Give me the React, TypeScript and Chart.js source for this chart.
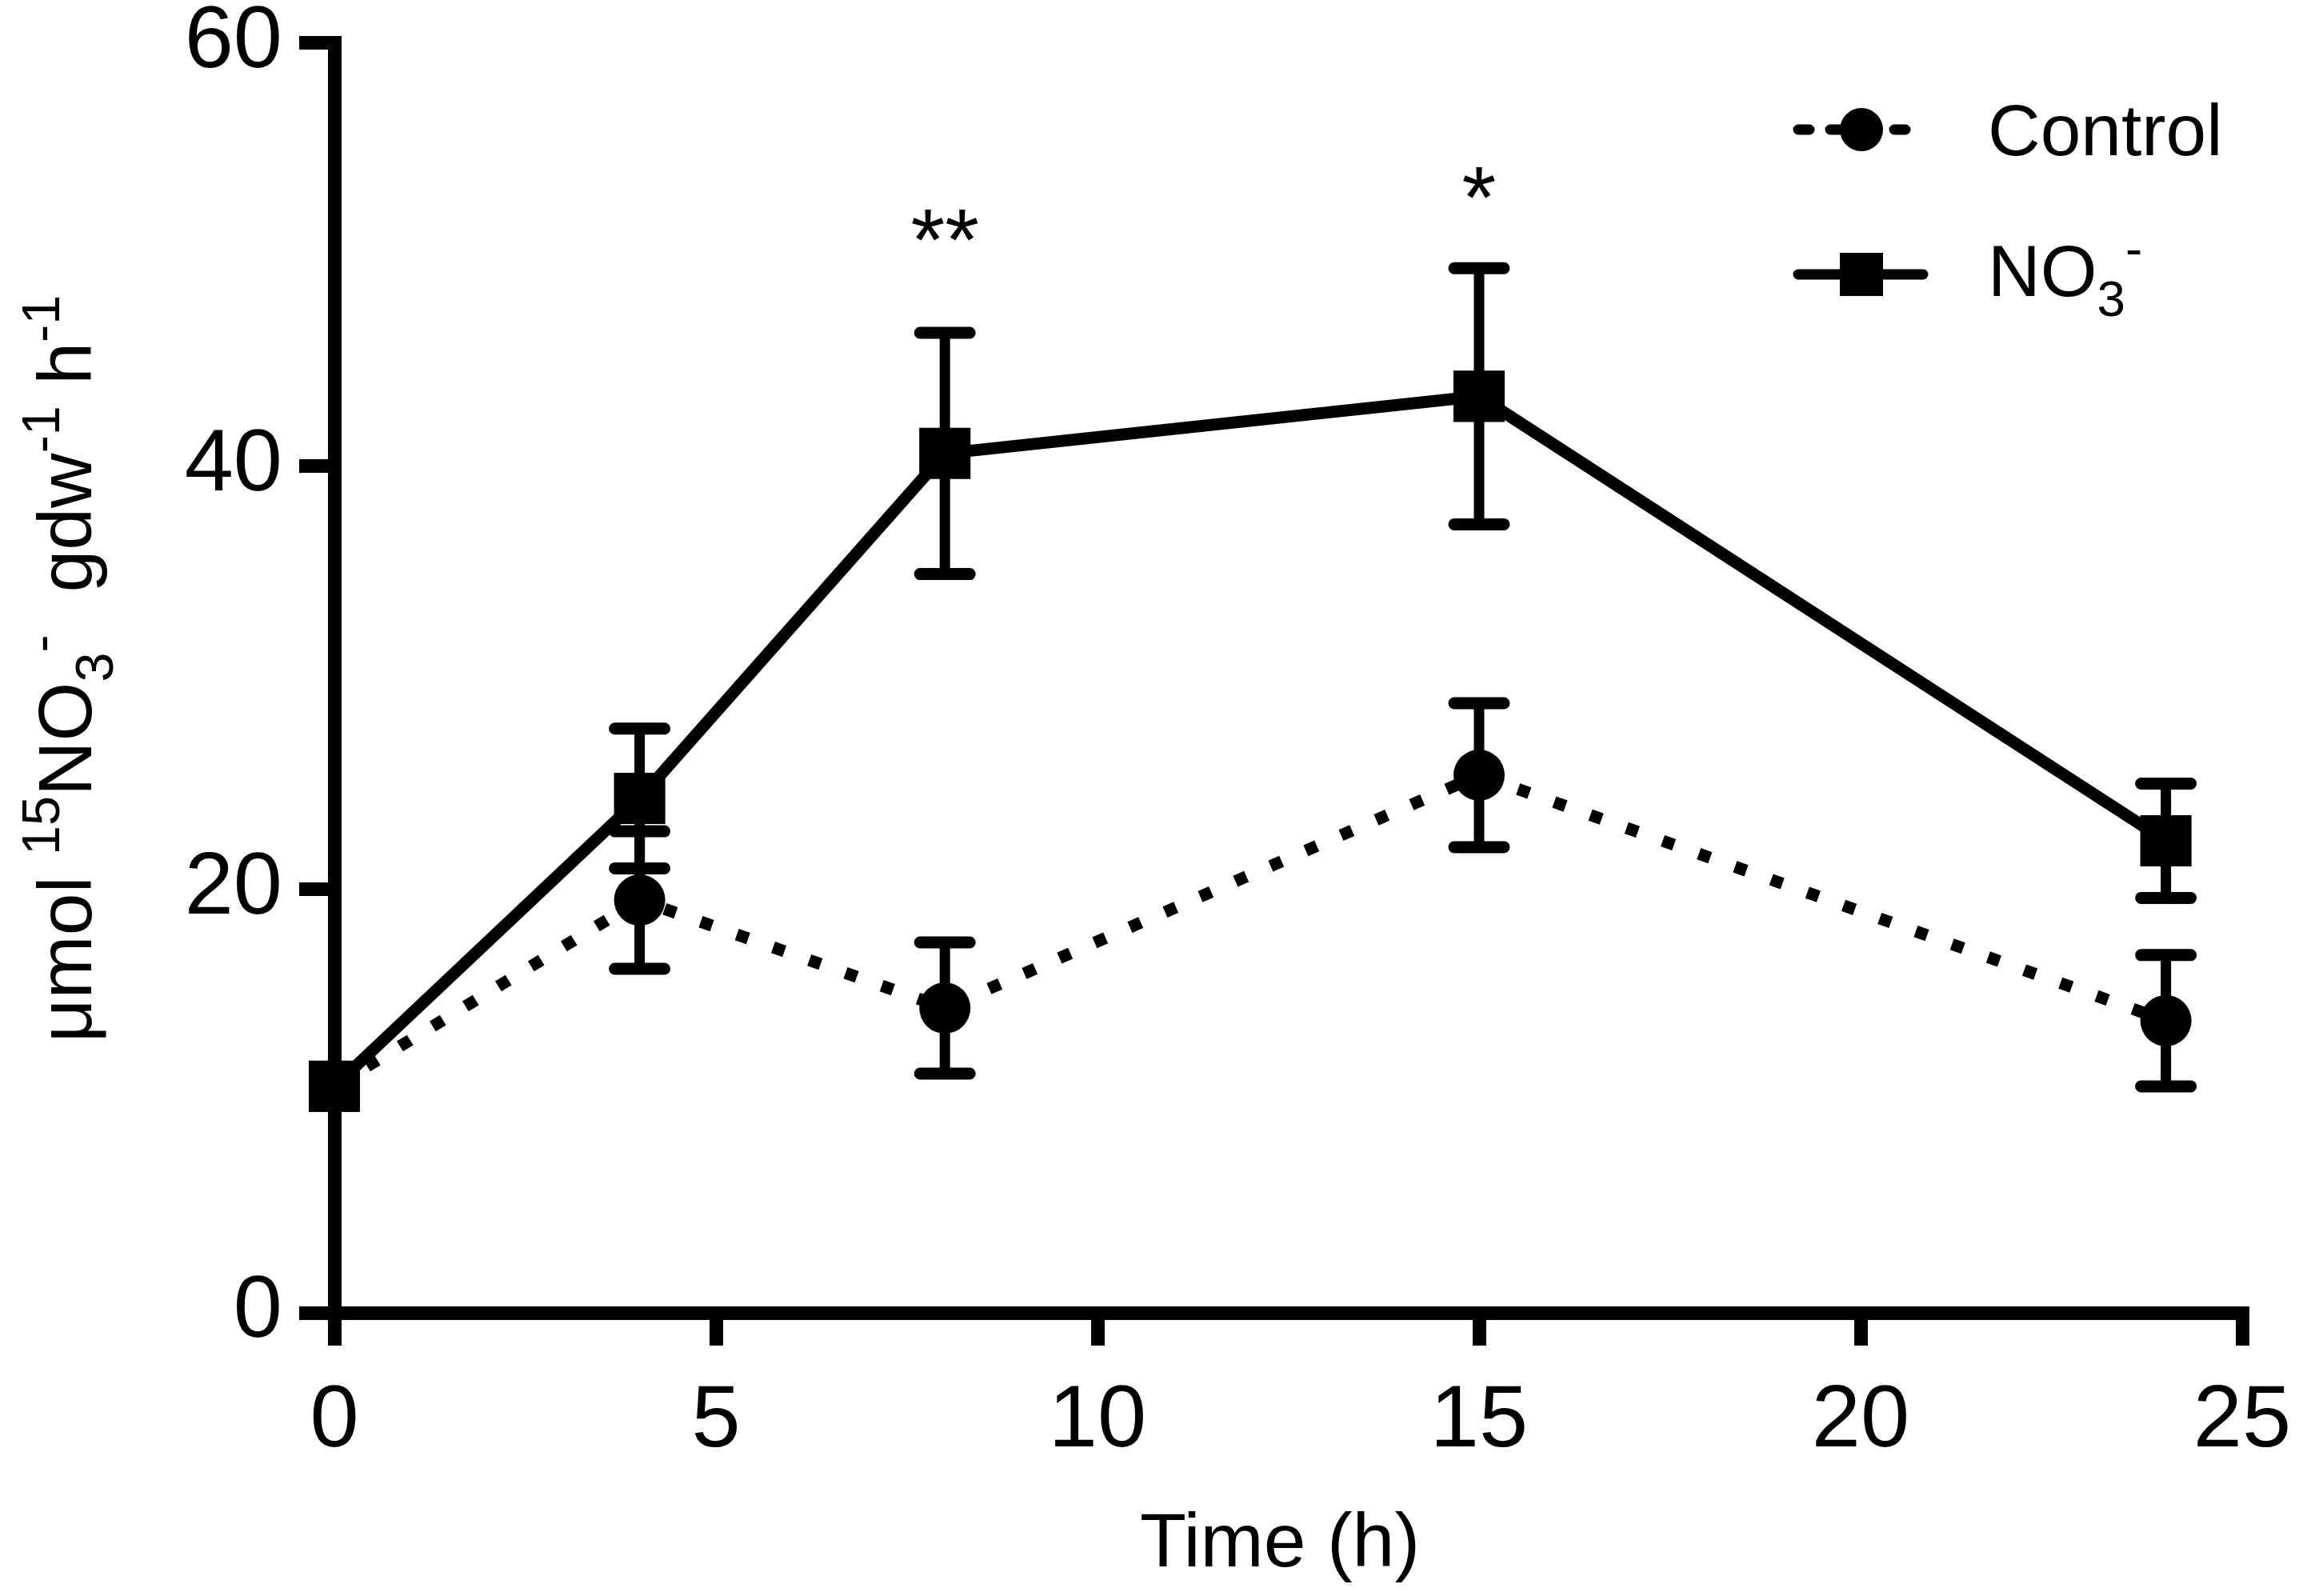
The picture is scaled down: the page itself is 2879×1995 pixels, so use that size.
import { useEffect, useRef } from "react";
import { Chart, registerables, type Plugin } from "chart.js";

Chart.register(...registerables);

const FONT = '"Liberation Sans", Arial, sans-serif';

// sampling times (h)
const hours = [0, 4, 8, 15, 24];
// Control
const controlMean = [10.7, 19.5, 14.4, 25.4, 13.8];
const controlSem = [0, 3.25, 3.1, 3.4, 3.1];
// NO3- treated
const nitrateMean = [10.7, 24.3, 40.6, 43.3, 22.3];
const nitrateSem = [0, 3.3, 5.7, 6.05, 2.7];

const xTicks = [0, 5, 10, 15, 20, 25];
const yTicks = [0, 20, 40, 60];

// significance marks
const sigHours = [8, 15];
const sigLevels = [49.3, 51.3];
const sigMarks = ["**", "*"];

type Run = { text: string; shift?: "sup" | "sub" };

const yTitle: Run[] = [
  { text: "μmol " },
  { text: "15", shift: "sup" },
  { text: "NO" },
  { text: "3", shift: "sub" },
  { text: "-", shift: "sup" },
  { text: "  gdw" },
  { text: "-1", shift: "sup" },
  { text: " h" },
  { text: "-1", shift: "sup" },
];
const nitrateLabel: Run[] = [{ text: "NO" }, { text: "3", shift: "sub" }, { text: "-", shift: "sup" }];
const controlLabel: Run[] = [{ text: "Control" }];

const runFont = (size: number, shift?: string) => `${shift ? size * 0.7 : size}px ${FONT}`;

function drawRuns(
  ctx: CanvasRenderingContext2D,
  runs: Run[],
  x: number,
  y: number,
  size: number,
  align: "left" | "center"
) {
  ctx.textBaseline = "alphabetic";
  ctx.textAlign = "left";
  let total = 0;
  for (const r of runs) {
    ctx.font = runFont(size, r.shift);
    total += ctx.measureText(r.text).width;
  }
  let cx = align === "center" ? x - total / 2 : x;
  for (const r of runs) {
    ctx.font = runFont(size, r.shift);
    const dy = r.shift === "sup" ? -0.42 * size : r.shift === "sub" ? 0.28 * size : 0;
    ctx.fillText(r.text, cx, y + dy);
    cx += ctx.measureText(r.text).width;
  }
}

const decorations: Plugin<"line"> = {
  id: "decorations",
  afterDatasetsDraw(chart) {
    const { ctx } = chart;
    const x = chart.scales.x;
    const y = chart.scales.y;
    ctx.save();
    ctx.strokeStyle = "#000";
    ctx.fillStyle = "#000";

    // error bars
    const groups = [
      { mean: controlMean, sem: controlSem },
      { mean: nitrateMean, sem: nitrateSem },
    ];
    for (const g of groups) {
      hours.forEach((h, i) => {
        if (!g.sem[i]) return;
        const px = x.getPixelForValue(h);
        const top = y.getPixelForValue(g.mean[i] + g.sem[i]);
        const bot = y.getPixelForValue(g.mean[i] - g.sem[i]);
        ctx.lineCap = "butt";
        ctx.lineWidth = 13;
        ctx.beginPath();
        ctx.moveTo(px, top);
        ctx.lineTo(px, bot);
        ctx.stroke();
        ctx.lineCap = "round";
        ctx.lineWidth = 15;
        ctx.beginPath();
        ctx.moveTo(px - 31, top);
        ctx.lineTo(px + 31, top);
        ctx.moveTo(px - 31, bot);
        ctx.lineTo(px + 31, bot);
        ctx.stroke();
      });
    }

    // significance asterisks
    ctx.font = `110px ${FONT}`;
    ctx.textAlign = "center";
    ctx.textBaseline = "alphabetic";
    sigHours.forEach((h, i) => {
      ctx.fillText(sigMarks[i], x.getPixelForValue(h), y.getPixelForValue(sigLevels[i]));
    });

    // axis titles
    ctx.save();
    ctx.translate(114, 836);
    ctx.rotate(-Math.PI / 2);
    drawRuns(ctx, yTitle, 0, 0, 95, "center");
    ctx.restore();
    drawRuns(ctx, [{ text: "Time (h)" }], 1600, 1958, 95, "center");

    // legend
    ctx.lineWidth = 13;
    ctx.lineCap = "round";
    ctx.setLineDash([14, 26]);
    ctx.beginPath();
    ctx.moveTo(2248, 162);
    ctx.lineTo(2382, 162);
    ctx.stroke();
    ctx.setLineDash([]);
    ctx.beginPath();
    ctx.arc(2327, 162, 27, 0, Math.PI * 2);
    ctx.fill();
    drawRuns(ctx, controlLabel, 2485, 194, 91, "left");

    ctx.beginPath();
    ctx.moveTo(2248, 343);
    ctx.lineTo(2404, 343);
    ctx.stroke();
    ctx.fillRect(2300, 316, 54, 54);
    drawRuns(ctx, nitrateLabel, 2485, 370, 91, "left");

    ctx.restore();
  },
};

export default function App() {
  const chartRef = useRef<HTMLCanvasElement | null>(null);
  const chartInstance = useRef<Chart | null>(null);

  useEffect(() => {
    if (!chartRef.current) return;
    chartInstance.current?.destroy();

    chartInstance.current = new Chart(chartRef.current, {
      type: "line",
      data: {
        datasets: [
          {
            label: "NO3-",
            data: hours.map((h, i) => ({ x: h, y: nitrateMean[i] })),
            borderColor: "#000",
            backgroundColor: "#000",
            borderWidth: 15,
            pointStyle: "rect",
            pointRadius: 45.3,
            pointHoverRadius: 45.3,
            pointBorderWidth: 0,
            pointBackgroundColor: "#000",
            tension: 0,
            clip: false,
            order: 0,
          },
          {
            label: "Control",
            data: hours.map((h, i) => ({ x: h, y: controlMean[i] })),
            borderColor: "#000",
            backgroundColor: "#000",
            borderWidth: 15,
            borderDash: [15, 33],
            borderCapStyle: "butt",
            pointStyle: "circle",
            pointRadius: 32,
            pointHoverRadius: 32,
            pointBorderWidth: 0,
            pointBackgroundColor: "#000",
            tension: 0,
            clip: false,
            order: 1,
          },
        ],
      },
      options: {
        animation: false,
        responsive: true,
        maintainAspectRatio: false,
        events: [],
        layout: { padding: { top: 53.5, right: 76, left: 0, bottom: 0 } },
        plugins: { legend: { display: false }, title: { display: false }, tooltip: { enabled: false } },
        scales: {
          x: {
            type: "linear",
            min: 0,
            max: 25,
            afterBuildTicks: (s) => {
              s.ticks = xTicks.map((v) => ({ value: v }));
            },
            afterFit: (s) => {
              s.height = 354;
              s.paddingLeft = 0;
              s.paddingRight = 0;
            },
            grid: { drawOnChartArea: false, tickLength: 41, tickWidth: 17, tickColor: "#000", color: "#000", lineWidth: 17 },
            border: { display: true, width: 17, color: "#000" },
            ticks: { color: "#000", font: { family: FONT, size: 110 }, padding: 30, maxRotation: 0 },
          },
          y: {
            type: "linear",
            min: 0,
            max: 60,
            afterBuildTicks: (s) => {
              s.ticks = yTicks.map((v) => ({ value: v }));
            },
            afterFit: (s) => {
              s.width = 418;
              s.paddingTop = 0;
              s.paddingBottom = 0;
            },
            grid: { drawOnChartArea: false, tickLength: 44, tickWidth: 17, tickColor: "#000", color: "#000", lineWidth: 17 },
            border: { display: true, width: 17, color: "#000" },
            ticks: { color: "#000", font: { family: FONT, size: 110 }, padding: 21 },
          },
        },
      },
      plugins: [decorations],
    });

    return () => {
      chartInstance.current?.destroy();
      chartInstance.current = null;
    };
  }, []);

  return (
    <div style={{ position: "fixed", left: 0, top: 0, width: 2879, height: 1995, background: "#fff" }}>
      <canvas ref={chartRef}></canvas>
    </div>
  );
}
